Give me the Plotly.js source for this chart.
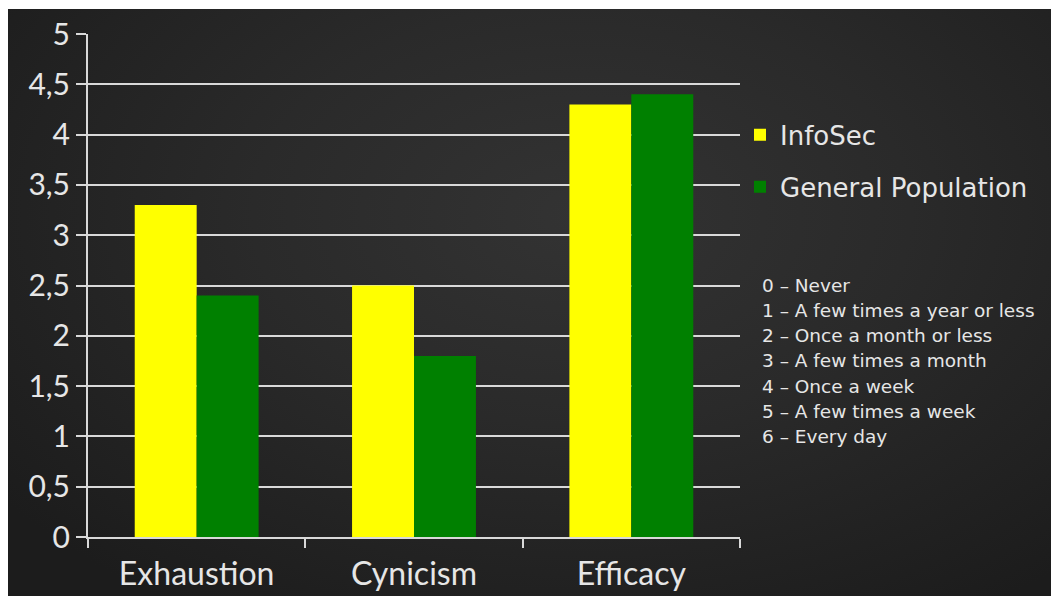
<!DOCTYPE html>
<html><head><meta charset="utf-8">
<script src="https://cdn.plot.ly/plotly-3.0.1.min.js"></script>
<style>
html,body{margin:0;padding:0;background:#fff;width:1051px;height:596px;overflow:hidden;}
#bg{position:absolute;left:8px;top:9px;width:1043px;height:587px;
background:radial-gradient(ellipse 70% 80% at 55% 35%, #333333 0%, #2a2a2a 45%, #1c1c1c 100%);}
#chart{position:absolute;left:8px;top:9px;width:1043px;height:587px;}
</style></head><body>
<div id="bg"></div><div id="chart"></div>
<script>
const categories = ["Exhaustion", "Cynicism", "Efficacy"];
const infosec = [3.3, 2.5, 4.3];
const generalPop = [2.4, 1.8, 4.4];
const seriesNames = ["InfoSec", "General Population"];
const scaleLabels = ["0 – Never", "1 – A few times a year or less", "2 – Once a month or less",
  "3 – A few times a month", "4 – Once a week", "5 – A few times a week", "6 – Every day"];

const FONT = "Lato, 'DejaVu Sans', sans-serif";
const WIDE = "'DejaVu Sans', sans-serif";
const TXT = "#e6e6e6";
const GRID = "#d9d9d9";

const traces = [
  {type:"bar", x:categories, y:infosec, name:seriesNames[0], marker:{color:"#ffff00"}, legendgroup:"a"},
  {type:"bar", x:categories, y:generalPop, name:seriesNames[1], marker:{color:"#008000"}, legendgroup:"b"}
];

const annotations = scaleLabels.map((t,i)=>({
  text:t, xref:"paper", yref:"y", x:1.031, y:2.5 - 0.25*i, xanchor:"left", yanchor:"middle",
  showarrow:false, font:{family:WIDE, size:18.5, color:TXT}
}));

const layout = {
  width:1043, height:587,
  margin:{l:80, r:311, t:25, b:59},
  paper_bgcolor:"rgba(0,0,0,0)", plot_bgcolor:"rgba(0,0,0,0)",
  separators:", ",
  barmode:"group", bargap:0.43, bargroupgap:0,
  font:{family:FONT, color:TXT},
  xaxis:{showline:true, linecolor:GRID, linewidth:2, ticks:"outside", tickson:"boundaries",
    ticklen:9, tickcolor:GRID, tickwidth:2, ticklabelstandoff:8,
    tickfont:{family:FONT, size:32, color:TXT}, showgrid:false},
  yaxis:{range:[0,5], dtick:0.5, showline:true, linecolor:GRID, linewidth:2, ticks:"outside",
    ticklen:10, tickcolor:GRID, tickwidth:2, gridcolor:GRID, gridwidth:2, zeroline:false,
    tickfont:{family:FONT, size:30, color:TXT}},
  legend:{x:1.0, xanchor:"left", y:0.846, yanchor:"top", traceorder:"grouped", tracegroupgap:15,
    font:{family:WIDE, size:26, color:TXT}, bgcolor:"rgba(0,0,0,0)"},
  annotations:annotations
};
Plotly.newPlot("chart", traces, layout, {displayModeBar:false, staticPlot:true});
</script></body></html>
